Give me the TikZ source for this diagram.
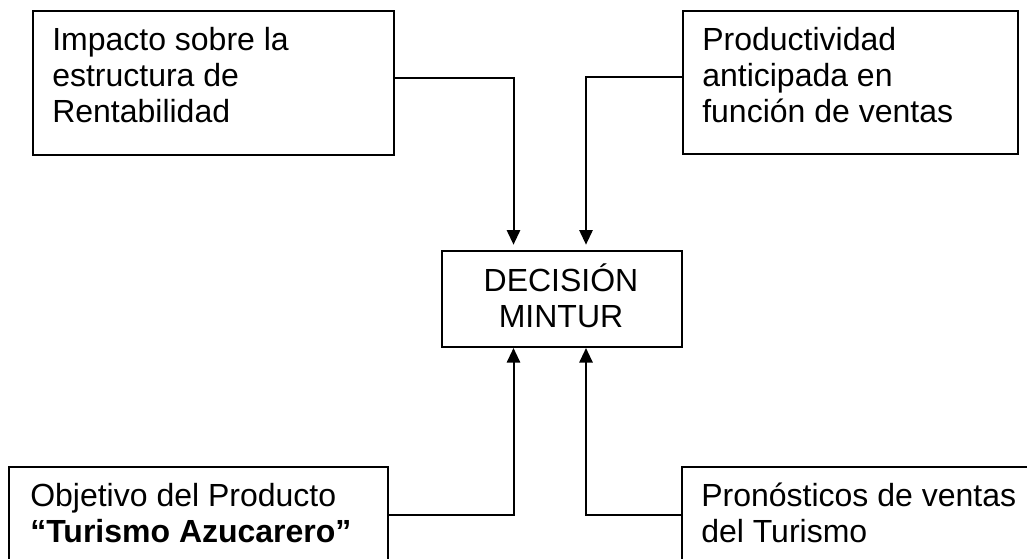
\documentclass[tikz,border=0pt]{standalone}
\usepackage{fontspec}
\setmainfont{Liberation Sans}
\usetikzlibrary{arrows.meta}
\begin{document}
\begin{tikzpicture}[x=0.75pt,y=-0.75pt,
  box/.style={draw=black,line width=1.5pt,rectangle,inner sep=0pt,anchor=north west},
  txt/.style={inner sep=0pt,anchor=base west,align=left,font=\fontsize{24}{27}\selectfont},
  ctxt/.style={inner sep=0pt,anchor=base,align=center,font=\fontsize{24}{27}\selectfont},
  conn/.style={draw=black,line width=1.5pt,-{Triangle[length=11pt,width=10pt]}}]
\useasboundingbox (0,0) rectangle (1027,558);
\clip (0,0) rectangle (1027,558);
% boxes
\node[box,minimum width=361*0.75pt,minimum height=144*0.75pt] (b1) at (32,10) {};
\node[box,minimum width=335*0.75pt,minimum height=143*0.75pt] (b2) at (682,10) {};
\node[box,minimum width=240*0.75pt,minimum height=96*0.75pt] (dec) at (441,250) {};
\node[box,minimum width=379*0.75pt,minimum height=96*0.75pt] (b3) at (8,466) {};
\node[box,minimum width=370*0.75pt,minimum height=96*0.75pt] (b4) at (681,466) {};
% texts (base anchor = baseline of last line)
\node[txt] (t1) at (52,122) {Impacto sobre la\\estructura de\\Rentabilidad};
\node[txt] (t2) at (702,122) {Productividad\\anticipada en\\función de ventas};
\node[ctxt] (td) at (561,327) {DECISIÓN\\MINTUR};
\node[txt] (t3) at (30,542) {Objetivo del Producto\\\textbf{“Turismo Azucarero”}};
\node[txt] (t4) at (701,542) {Pronósticos de ventas\\del Turismo};
% connectors
\draw[conn,shorten >=4pt] ([yshift=3.75pt]b1.east) -| ([xshift=-36.375pt]dec.north);
\draw[conn,shorten >=4pt] ([yshift=4pt]b2.west) -| ([xshift=18pt]dec.north);
\draw[conn] (b3.east) -| ([xshift=-36.375pt]dec.south);
\draw[conn] (b4.west) -| ([xshift=18pt]dec.south);
\end{tikzpicture}
\end{document}
